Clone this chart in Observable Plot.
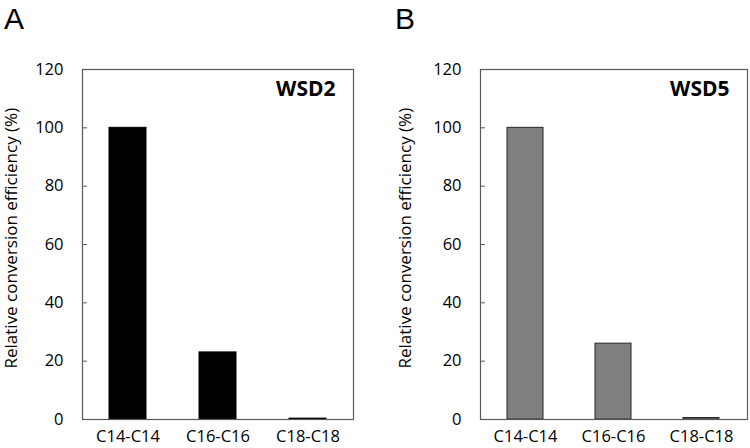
<!DOCTYPE html>
<html>
<head>
<meta charset="utf-8">
<script src="https://cdn.jsdelivr.net/npm/d3@7"></script>
<script src="https://cdn.jsdelivr.net/npm/@observablehq/plot@0.6"></script>
<style>
  html, body { margin: 0; padding: 0; background: #fff; }
  #wrap { position: relative; width: 750px; height: 448px; }
  #wrap svg { position: absolute; top: 0; overflow: visible; }
</style>
</head>
<body>
<div id="wrap"></div>
<script>
const categories = ["C14-C14", "C16-C16", "C18-C18"];
const wsd2Values = [100, 23, 0.3];
const wsd5Values = [100, 26, 0.5];
const yTicks = [0, 20, 40, 60, 80, 100, 120];
const yLabel = "Relative conversion efficiency (%)";
const panels = [
  {letter: "A", name: "WSD2", values: wsd2Values, fill: "#000000", stroke: "#000000"},
  {letter: "B", name: "WSD5", values: wsd5Values, fill: "#808080", stroke: "#262626"}
];

const FONT = "'Open Sans', sans-serif";
const wrap = document.getElementById("wrap");

const layouts = [
  {left: 0, marginLeft: 82, marginRight: 22, labelX: 11, letterX: 4},
  {left: 375, marginLeft: 105, marginRight: 3, labelX: 30, letterX: 20}
];

panels.forEach((p, i) => {
  const L = layouts[i];
  const data = categories.map((c, j) => ({cat: c, value: p.values[j]}));
  const chart = Plot.plot({
    width: 375,
    height: 448,
    marginLeft: L.marginLeft,
    marginRight: L.marginRight,
    marginTop: 69,
    marginBottom: 29,
    style: {fontFamily: FONT, fontSize: "16.5px", color: "#000", background: "transparent", overflow: "visible"},
    x: {domain: categories, paddingInner: 0.59, paddingOuter: 0.3, label: null},
    y: {domain: [0, 120], label: null},
    marks: [
      Plot.barY(data, {x: "cat", y: "value", fill: p.fill, stroke: p.stroke, strokeWidth: 1}),
      Plot.frame({stroke: "#595959", strokeWidth: 1.2}),
      Plot.axisY({ticks: yTicks, tickSize: 5, dx: 5, text: null, stroke: "#595959", label: null}),
      Plot.axisY({ticks: yTicks, tickSize: 0, tickPadding: 19, fontSize: 16.5, fill: "#000", label: null}),
      Plot.axisX({tickSize: 0, tickPadding: 11, fontSize: 16.5, fill: "#000", label: null}),
      Plot.text([p.name], {frameAnchor: "top-right", dx: -18, dy: 12, text: d => d, fontWeight: "bold", fontSize: 21, fill: "#000"})
    ]
  });
  chart.style.left = L.left + "px";
  wrap.appendChild(chart);

  const svg = d3.select(chart);
  const yScale = chart.scale("y");
  const yMid = yScale.apply(62);
  svg.append("text")
    .attr("transform", `translate(${L.labelX},${yMid}) rotate(-90)`)
    .attr("text-anchor", "middle")
    .attr("dy", "0.35em")
    .attr("font-family", FONT)
    .attr("font-size", 17)
    .attr("fill", "#000")
    .text(yLabel);
  svg.append("text")
    .attr("x", L.letterX)
    .attr("y", 29)
    .attr("text-anchor", "start")
    .attr("font-family", "'Liberation Sans', Arial, sans-serif")
    .attr("font-size", 30)
    .attr("fill", "#000")
    .text(p.letter);
});
</script>
</body>
</html>
